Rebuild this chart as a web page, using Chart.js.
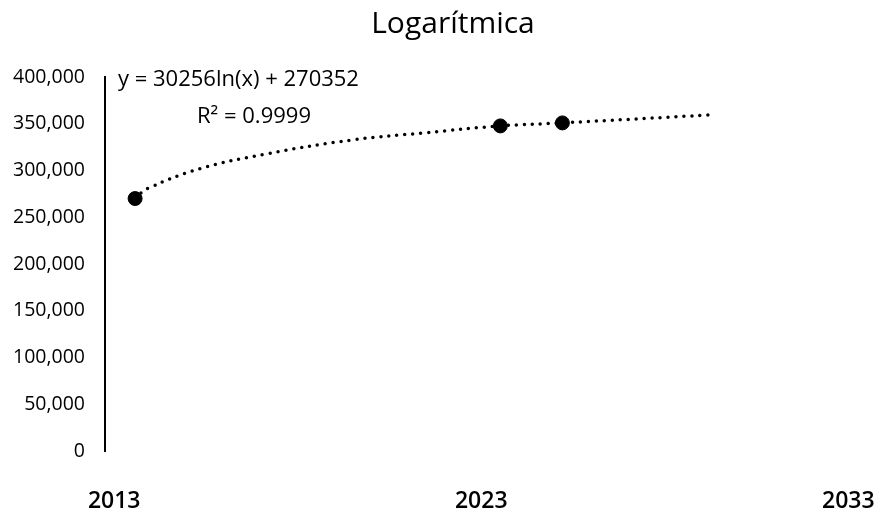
<!DOCTYPE html>
<html>
<head>
<meta charset="utf-8">
<script src="https://cdn.jsdelivr.net/npm/chart.js@4"></script>
<style>
  html, body { margin: 0; padding: 0; background: #ffffff; }
  #wrap { width: 880px; height: 519px; }
</style>
</head>
<body>
<div id="wrap"><canvas id="myChart"></canvas></div>
<script>
// Data //
// measured points (year, value) //
const pointYears = [2013.57, 2023.52, 2025.21];
const pointValues = [270000, 347700, 350900];
// dotted trend line //
const trendYears = [2013.57, 2013.9, 2015.34, 2017.17, 2019.51, 2021.47, 2023.52, 2025.21, 2029.27];
const trendValues = [270000, 280500, 301900, 317900, 332800, 340300, 347700, 350900, 359500];
// axis tick labels //
const xTicks = [2013, 2023, 2033];
const yTicks = [0, 50000, 100000, 150000, 200000, 250000, 300000, 350000, 400000];
const yLabels = ["0", "50,000", "100,000", "150,000", "200,000", "250,000", "300,000", "350,000", "400,000"];
// texts //
const titleText = "Logarítmica";
const equationLines = ["y = 30256ln(x) + 270352", "R² = 0.9999"];

const font = "'Open Sans', sans-serif";

// writes the title and the trendline equation //
const textPlugin = {
  id: "texts",
  afterDraw(chart) {
    const ctx = chart.ctx;
    ctx.save();
    ctx.fillStyle = "#000";
    ctx.textBaseline = "alphabetic";
    ctx.textAlign = "center";
    ctx.font = "30px " + font;
    ctx.fillText(titleText, 453, 33);
    ctx.font = "22px " + font;
    ctx.textAlign = "left";
    ctx.fillText(equationLines[0], 118, 86);
    ctx.textAlign = "center";
    ctx.fillText(equationLines[1], 254, 123);
    ctx.restore();
  }
};

new Chart("myChart", {
  type: "scatter",
  data: {
    datasets: [
      // Trend line //
      {
        data: trendYears.map((x, i) => ({ x: x, y: trendValues[i] })),
        showLine: true,
        borderColor: "#000",
        borderWidth: 3.5,
        borderDash: [0, 8],
        borderCapStyle: "round",
        tension: 0.4,
        pointRadius: 0,
        order: 2
      },
      // Points //
      {
        data: pointYears.map((x, i) => ({ x: x, y: pointValues[i] })),
        backgroundColor: "#000",
        borderColor: "#000",
        pointRadius: 7,
        order: 1
      }
    ]
  },
  options: {
    responsive: true,
    maintainAspectRatio: false,
    animation: false,
    layout: { padding: { top: 77, right: 17, bottom: 0, left: 0 } },
    plugins: {
      legend: { display: false },
      tooltip: { enabled: false },
      title: { display: false }
    },
    scales: {
      x: {
        type: "linear",
        min: 2012.75,
        max: 2033.4,
        grid: { display: false, drawTicks: false },
        border: { display: false },
        afterBuildTicks: (axis) => { axis.ticks = xTicks.map(v => ({ value: v })); },
        afterFit: (axis) => {
          axis.height = 68;
          axis.paddingLeft = 0;
          axis.paddingRight = 0;
        },
        ticks: {
          color: "#000",
          padding: 37,
          maxRotation: 0,
          minRotation: 0,
          font: { family: font, size: 23, weight: 600 },
          callback: (v) => String(v)
        }
      },
      y: {
        min: 0,
        max: 400000,
        grid: { display: false, drawTicks: false },
        border: { display: true, color: "#000", width: 2 },
        afterBuildTicks: (axis) => { axis.ticks = yTicks.map(v => ({ value: v })); },
        afterFit: (axis) => { axis.width = 105; },
        ticks: {
          color: "#000",
          padding: 20,
          font: { family: font, size: 19.5 },
          callback: (v) => yLabels[yTicks.indexOf(v)]
        }
      }
    }
  },
  plugins: [textPlugin]
});
</script>
</body>
</html>
